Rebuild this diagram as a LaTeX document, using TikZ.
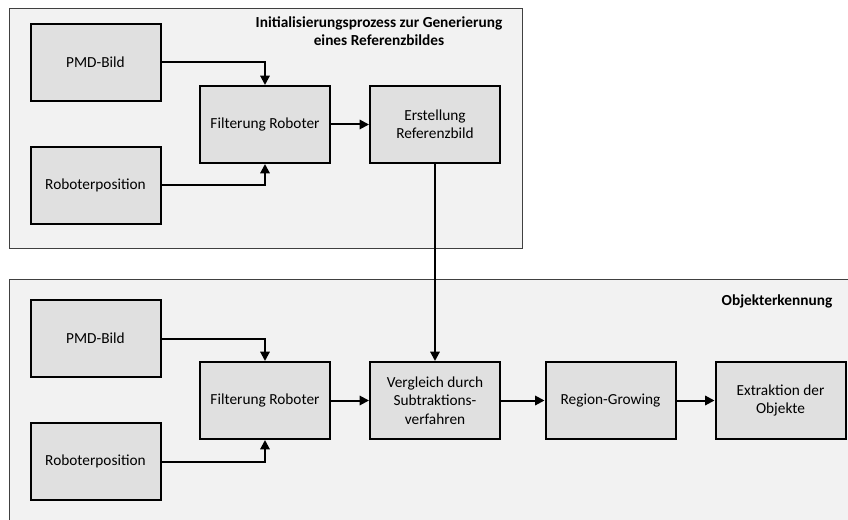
\documentclass[tikz,border=0pt]{standalone}
\usepackage{fontspec}
\setmainfont{Carlito}
\usetikzlibrary{arrows.meta}
\definecolor{boxfill}{HTML}{E0E0E0}
\definecolor{contfill}{HTML}{F2F2F2}
\definecolor{contline}{HTML}{404040}
\begin{document}
\begin{tikzpicture}[x=0.75pt,y=-0.75pt,
  procbox/.style={draw=black,line width=1.5pt,fill=boxfill,minimum width=97.5pt,minimum height=57.75pt,align=center,inner sep=2pt,font=\fontsize{11.5}{13.8}\selectfont},
  container/.style={draw=contline,line width=0.75pt,fill=contfill},
  conn/.style={line width=1.5pt,-{Triangle[length=7pt,width=7pt]}},
  title/.style={font=\bfseries\fontsize{11.5}{13.8}\selectfont,align=center}]
\useasboundingbox (0,0) rectangle (848,520);
\clip (0,0) rectangle (848,520);
\fill[white] (0,0) rectangle (848,520);
% containers
\node[container,minimum width=384.75pt,minimum height=179.25pt,inner sep=0pt] (topc) at (265.5,128.5) {};
\draw[container] (9,279) rectangle (852,526);
\coordinate (botc) at (430,400);
\node[title] (t1) at (379,31) {Initialisierungsprozess zur Generierung\\eines Referenzbildes};
\node[title] (t2) at (777,301) {Objekterkennung};
% top row
\node[procbox] (pmd1) at (95.5,62.5) {PMD-Bild};
\node[procbox] (rob1) at (95.5,185.5) {Roboterposition};
\node[procbox] (fil1) at (265,124.5) {Filterung Roboter};
\node[procbox] (ers) at (435,124.5) {Erstellung\\Referenzbild};
% bottom row
\node[procbox] (pmd2) at (95.5,338.5) {PMD-Bild};
\node[procbox] (rob2) at (95.5,461.5) {Roboterposition};
\node[procbox] (fil2) at (265,400.5) {Filterung Roboter};
\node[procbox] (ver) at (435,400.5) {Vergleich durch\\Subtraktions-\\verfahren};
\node[procbox] (reg) at (610.5,400.5) {Region-Growing};
\node[procbox] (ext) at (780.5,400.5) {Extraktion der\\Objekte};
% connectors
\draw[conn] (pmd1.east) -| (fil1.north);
\draw[conn] (rob1.east) -| (fil1.south);
\draw[conn] (fil1) -- (ers);
\draw[conn] (ers.south) -- (ver.north);
\draw[conn] (pmd2.east) -| (fil2.north);
\draw[conn] (rob2.east) -| (fil2.south);
\draw[conn] (fil2) -- (ver);
\draw[conn] (ver) -- (reg);
\draw[conn] (reg) -- (ext);
\end{tikzpicture}
\end{document}
